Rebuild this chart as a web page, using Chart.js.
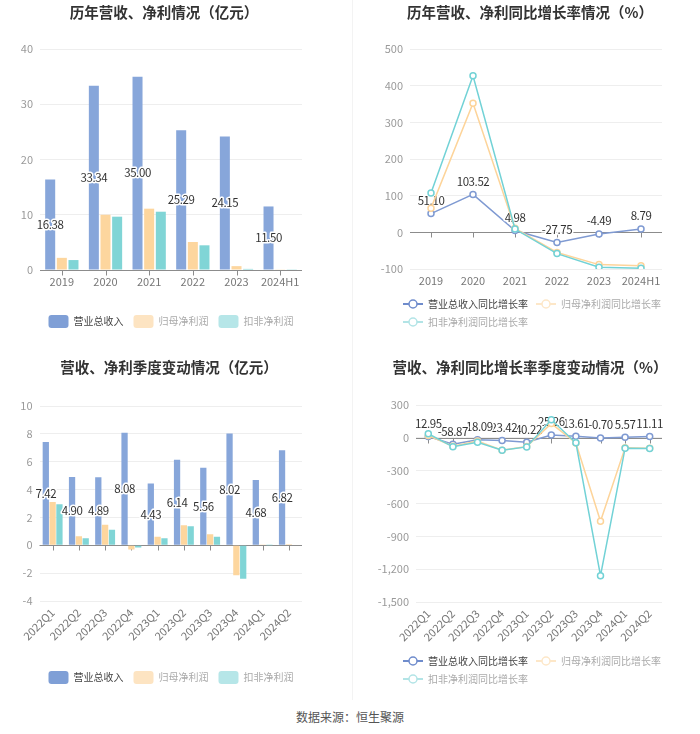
<!DOCTYPE html>
<html><head><meta charset="utf-8">
<script src="https://cdn.jsdelivr.net/npm/chart.js@4"></script>
<style>
html,body{margin:0;padding:0;background:#fff;}
body{width:700px;height:734px;position:relative;overflow:hidden;font-family:"Noto Sans CJK SC","Noto Sans",sans-serif;}
.p{position:absolute;width:350px;height:345px;}
.p canvas{display:block}
.t{position:absolute;width:400px;text-align:center;font-size:14.5px;font-weight:bold;color:#333;line-height:20px;white-space:nowrap;}
#divider{position:absolute;left:352px;top:0;width:1px;height:700px;background:#f3f3f3;}
#src{position:absolute;left:0;width:700px;top:709px;line-height:16px;text-align:center;font-size:12px;color:#555;}
</style></head>
<body>
<div id="divider"></div>
<div class="p" style="left:0;top:0"><canvas id="c1" width="350" height="345"></canvas></div>
<div class="p" style="left:350px;top:0"><canvas id="c2" width="350" height="345"></canvas></div>
<div class="p" style="left:0;top:355px"><canvas id="c3" width="350" height="345"></canvas></div>
<div class="p" style="left:350px;top:355px"><canvas id="c4" width="350" height="345"></canvas></div>
<div class="t" style="left:-36px;top:2px">历年营收、净利情况（亿元）</div>
<div class="t" style="left:330px;top:2px">历年营收、净利同比增长率情况（%）</div>
<div class="t" style="left:-31px;top:357px">营收、净利季度变动情况（亿元）</div>
<div class="t" style="left:330px;top:357px">营收、净利同比增长率季度变动情况（%）</div>
<div id="src">数据来源：恒生聚源</div>
<script>
// ---------- data ----------
const years = ['2019','2020','2021','2022','2023','2024H1'];
const revenue = [16.38,33.34,35.00,25.29,24.15,11.50];
const netProfit = [2.2,10.0,11.1,5.07,0.7,0.12];
const deductedProfit = [1.8,9.65,10.55,4.47,0.2,0.05];
const revenueGrowth = [51.10,103.52,4.98,-27.75,-4.49,8.79];
const netProfitGrowth = [66,352,11,-55,-88,-91];
const deductedGrowth = [107,427,9,-58,-95,-98];

const quarters = ['2022Q1','2022Q2','2022Q3','2022Q4','2023Q1','2023Q2','2023Q3','2023Q4','2024Q1','2024Q2'];
const qRevenue = [7.42,4.90,4.89,8.08,4.43,6.14,5.56,8.02,4.68,6.82];
const qNetProfit = [3.1,0.64,1.48,-0.3,0.62,1.43,0.79,-2.16,0.05,0.07];
const qDeducted = [2.95,0.5,1.12,-0.15,0.5,1.36,0.62,-2.4,0.01,0.0];
const qRevenueGrowth = [12.95,-58.87,-18.09,-23.42,-40.22,25.26,13.61,-0.70,5.57,11.11];
const qNetGrowth = [21,-76,-30,-113,-80,130,-47,-762,-91,-95];
const qDeductedGrowth = [37,-82,-40,-113,-83,165,-45,-1260,-95,-98];

const barNames = ['营业总收入','归母净利润','扣非净利润'];
const lineNames = ['营业总收入同比增长率','归母净利润同比增长率','扣非净利润同比增长率'];

// ---------- styles ----------
const FAMILY = '"Noto Sans CJK SC","Noto Sans",sans-serif';
Chart.defaults.font.family = FAMILY;
const barColors = ['#87a6da','#fdd69e','#80d5d6'];
const barLegend = ['#7f9fd6','#fde4c2','#b6e6e8'];
const lineColors = ['#7f9ad2','#fdd49a','#72d2d6'];
const lineLegend = ['#6f8ccc','#fde7c8','#b2e4e6'];
const legendText = ['#444','#aaa','#aaa'];

function lineIcon(color){
  const c=document.createElement('canvas'); c.width=20; c.height=12;
  const g=c.getContext('2d');
  g.strokeStyle=color; g.lineWidth=2;
  g.beginPath(); g.moveTo(0,6); g.lineTo(20,6); g.stroke();
  g.beginPath(); g.arc(10,6,4,0,Math.PI*2); g.fillStyle='#fff'; g.fill(); g.lineWidth=1.5; g.stroke();
  return c;
}

// value labels of the first series, drawn right after that series
const valueLabels = {
  id:'valueLabels',
  afterDatasetDraw(chart, args, opts){
    if(!opts || !opts.mode || args.index!==0) return;
    const ctx=chart.ctx, meta=chart.getDatasetMeta(0), data=chart.data.datasets[0].data;
    ctx.save();
    ctx.font='11.5px '+FAMILY; ctx.textAlign='center'; ctx.textBaseline='middle'; ctx.lineJoin='round';
    if('letterSpacing' in ctx) ctx.letterSpacing='-0.4px';
    for(let i=meta.data.length-1;i>=0;i--){
      const el=meta.data[i];
      const t=data[i].toFixed(2);
      const x=el.x;
      const y= opts.mode==='bar' ? (el.y+el.base)/2 : el.y-13;
      ctx.lineWidth=3; ctx.strokeStyle='#fff'; ctx.strokeText(t,x,y);
      ctx.fillStyle='#333'; ctx.fillText(t,x,y);
    }
    ctx.restore();
  }
};
const zeroAxis = {
  id:'zeroAxis',
  beforeDatasetsDraw(chart){
    const y0=Math.round(chart.scales.y.getPixelForValue(0))+0.5, xs=chart.scales.x, ctx=chart.ctx;
    ctx.save(); ctx.strokeStyle='#8c8c8c'; ctx.lineWidth=1; ctx.beginPath();
    ctx.moveTo(chart.chartArea.left,y0); ctx.lineTo(chart.chartArea.right,y0);
    for(let i=0;i<xs.ticks.length;i++){ const x=Math.round(xs.getPixelForTick(i))+0.5; ctx.moveTo(x,y0); ctx.lineTo(x,y0+5); }
    ctx.stroke(); ctx.restore();
  }
};
const legendShift = {
  id:'legendShift',
  afterLayout(chart, args, opts){
    if(opts && opts.dx){ chart.legend.left+=opts.dx; chart.legend.right+=opts.dx; }
  }
};

function yScale(min,max,step,width){
  return {min,max,ticks:{stepSize:step,color:'#9a9a9a',font:{size:11},padding:7},
    grid:{color:'#eeeeee',drawTicks:false}, border:{display:false},
    afterFit:s=>{s.width=width;}};
}
function xScale(height, rotate){
  const t={color:'#777',font:{size:11},padding:5,autoSkip:false};
  if(rotate){t.minRotation=45;t.maxRotation=45;} else {t.minRotation=0;t.maxRotation=0;}
  return {offset:true, grid:{display:false,drawTicks:false}, border:{display:false}, ticks:t, afterFit:s=>{s.height=height;}};
}
function barLegendOpt(){
  return {position:'bottom', fullSize:true, align:'center',
    labels:{boxWidth:20, boxHeight:13, padding:10, useBorderRadius:true, borderRadius:3, font:{size:10},
      generateLabels: chart => chart.data.datasets.map((d,i)=>({text:d.label, fillStyle:barLegend[i], strokeStyle:barLegend[i], lineWidth:0, fontColor:legendText[i], borderRadius:3, datasetIndex:i, hidden:false}))}};
}
function lineLegendOpt(){
  return {position:'bottom', fullSize:true, align:'start',
    labels:{usePointStyle:true, pointStyleWidth:20, boxHeight:10, padding:8, font:{size:10},
      generateLabels: chart => chart.data.datasets.map((d,i)=>({text:d.label, pointStyle:lineIcon(lineLegend[i]), fillStyle:lineLegend[i], strokeStyle:lineLegend[i], lineWidth:0, fontColor:legendText[i], datasetIndex:i, hidden:false}))}};
}
function barDatasets(arrs, cp, bp){
  return arrs.map((a,i)=>({label:barNames[i], data:a, backgroundColor:barColors[i], categoryPercentage:cp, barPercentage:bp}));
}
function lineDatasets(arrs){
  return arrs.map((a,i)=>({label:lineNames[i], data:a, order:3-i, borderColor:lineColors[i], backgroundColor:lineColors[i], borderWidth:1.5, pointRadius:3, pointBorderWidth:1.5, pointBackgroundColor:'#fff', pointBorderColor:lineColors[i], tension:0}));
}
const common = {responsive:false, animation:false, devicePixelRatio:1, events:[]};

// 1: yearly bars
new Chart(document.getElementById('c1'), {
  type:'bar',
  data:{labels:years, datasets:barDatasets([revenue,netProfit,deductedProfit],0.8,0.86)},
  options:Object.assign({}, common, {
    layout:{padding:{left:0,right:48,top:49,bottom:7}},
    scales:{x:xScale(35,false), y:yScale(0,40,10,40)},
    plugins:{legend:barLegendOpt(), tooltip:{enabled:false}, valueLabels:{mode:'bar'}, legendShift:{dx:20}}
  }),
  plugins:[zeroAxis, valueLabels, legendShift]
});
// 2: yearly growth lines
new Chart(document.getElementById('c2'), {
  type:'line',
  data:{labels:years, datasets:lineDatasets([revenueGrowth,netProfitGrowth,deductedGrowth])},
  options:Object.assign({}, common, {
    layout:{padding:{left:0,right:38,top:49,bottom:8}},
    scales:{x:xScale(22,false), y:yScale(-100,500,100,60)},
    plugins:{legend:lineLegendOpt(), tooltip:{enabled:false}, valueLabels:{mode:'line'}, legendShift:{dx:45}}
  }),
  plugins:[zeroAxis, valueLabels, legendShift]
});
// 3: quarterly bars
new Chart(document.getElementById('c3'), {
  type:'bar',
  data:{labels:quarters, datasets:barDatasets([qRevenue,qNetProfit,qDeducted],0.78,0.92)},
  options:Object.assign({}, common, {
    layout:{padding:{left:0,right:48,top:51,bottom:6}},
    scales:{x:xScale(60,true), y:yScale(-4,10,2,39.5)},
    plugins:{legend:barLegendOpt(), tooltip:{enabled:false}, valueLabels:{mode:'bar'}, legendShift:{dx:20}}
  }),
  plugins:[zeroAxis, valueLabels, legendShift]
});
// 4: quarterly growth lines
new Chart(document.getElementById('c4'), {
  type:'line',
  data:{labels:quarters, datasets:lineDatasets([qRevenueGrowth,qNetGrowth,qDeductedGrowth])},
  options:Object.assign({}, common, {
    layout:{padding:{left:0,right:38,top:50,bottom:6}},
    scales:{x:xScale(46,true), y:yScale(-1500,300,300,66)},
    plugins:{legend:lineLegendOpt(), tooltip:{enabled:false}, valueLabels:{mode:'line'}, legendShift:{dx:45}}
  }),
  plugins:[zeroAxis, valueLabels, legendShift]
});
</script>
</body></html>
